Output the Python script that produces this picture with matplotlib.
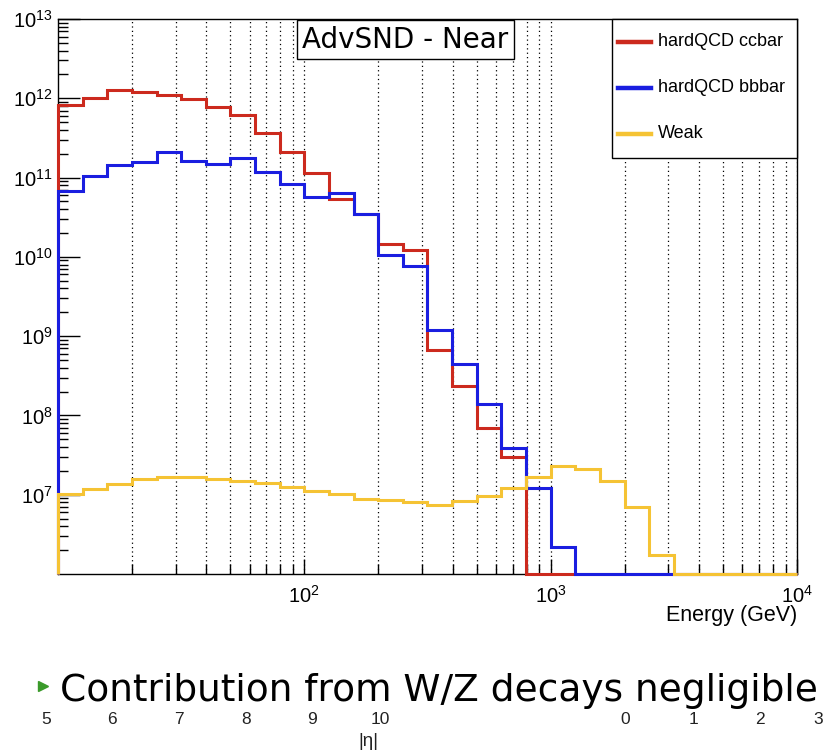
import numpy as np
import matplotlib
matplotlib.use("Agg")
import matplotlib.pyplot as plt
from matplotlib.lines import Line2D
from matplotlib.patches import Rectangle
from matplotlib.ticker import LogLocator, FixedLocator, NullFormatter

plt.rcParams["font.family"] = ["Liberation Sans", "DejaVu Sans"]
plt.rcParams["mathtext.fontset"] = "custom"
plt.rcParams["mathtext.rm"] = "Liberation Sans"
plt.rcParams["mathtext.it"] = "Liberation Sans:italic"

# 30 log-spaced energy bins, 10 GeV .. 10 TeV
edges = np.logspace(1, 4, 31)

ccbar = [8.2e11, 1.0e12, 1.28e12, 1.21e12, 1.11e12, 9.8e11, 7.7e11, 6.2e11,
         3.7e11, 2.1e11, 1.15e11, 5.4e10, 3.5e10, 1.47e10, 1.21e10, 6.7e8,
         2.35e8, 6.9e7, 2.95e7, 0, 0, 0, 0, 0, 0, 0, 0, 0, 0, 0]
bbbar = [6.7e10, 1.06e11, 1.46e11, 1.57e11, 2.1e11, 1.64e11, 1.49e11, 1.76e11,
         1.17e11, 8.2e10, 5.7e10, 6.3e10, 3.5e10, 1.07e10, 7.6e9, 1.19e9,
         4.4e8, 1.4e8, 3.9e7, 1.2e7, 2.2e6, 0, 0, 0, 0, 0, 0, 0, 0, 0]
weak = [1.02e7, 1.19e7, 1.36e7, 1.57e7, 1.67e7, 1.68e7, 1.57e7, 1.49e7,
        1.40e7, 1.26e7, 1.13e7, 1.02e7, 8.8e6, 8.7e6, 8.2e6, 7.4e6,
        8.3e6, 9.7e6, 1.21e7, 1.65e7, 2.27e7, 2.1e7, 1.5e7, 6.9e6, 1.74e6,
        0, 0, 0, 0, 0]

labels = ["hardQCD ccbar", "hardQCD bbbar", "Weak"]
colors = ["#cc2a1e", "#1a1ee0", "#f5c334"]

ymin, ymax = 1e6, 1e13

fig = plt.figure(figsize=(8.25, 7.54), dpi=100)
ax = fig.add_axes([58 / 825, 1 - 574 / 754, 739 / 825, 555 / 754])
ax.set_xscale("log")
ax.set_yscale("log")
ax.set_xlim(10, 1e4)
ax.set_ylim(ymin, ymax)

for i, (vals, col) in enumerate(zip([ccbar, bbbar, weak], colors)):
    v = np.clip(np.array(vals, dtype=float), ymin, None)
    ax.stairs(v, edges, baseline=ymin, color=col, lw=2.2,
              zorder=3 + i, clip_on=False)

# ticks: ROOT style, inside, only left/bottom
ax.xaxis.set_major_locator(FixedLocator([1e2, 1e3, 1e4]))
ax.xaxis.set_minor_locator(LogLocator(base=10, subs=np.arange(2, 10)))
ax.xaxis.set_minor_formatter(NullFormatter())
ax.yaxis.set_major_locator(FixedLocator([10.0 ** k for k in range(7, 14)]))
ax.yaxis.set_minor_locator(LogLocator(base=10, subs=np.arange(2, 10), numticks=20))
ax.yaxis.set_minor_formatter(NullFormatter())
ax.set_xticklabels([r"$10^{2}$", r"$10^{3}$", r"$10^{4}$"])
ax.set_yticklabels([r"$10^{%d}$" % k for k in range(7, 14)])
ax.tick_params(axis="x", which="major", direction="in", length=11, width=1,
               pad=8, labelsize=14.5)
ax.tick_params(axis="x", which="minor", direction="in", length=7, width=1)
ax.tick_params(axis="y", which="major", direction="in", length=16, width=1,
               pad=4, labelsize=14.5)
ax.tick_params(axis="y", which="minor", direction="in", length=7.5, width=1)
for s in ax.spines.values():
    s.set_linewidth(1.0)

# vertical dotted grid at every x tick
ax.grid(True, axis="x", which="both", color="black", lw=0.9,
        linestyle=(0, (1, 2.5)), zorder=1)
ax.set_axisbelow(True)

ax.text(1.0, -0.075, "Energy (GeV)", transform=ax.transAxes, ha="right",
        va="center", fontsize=15.5)

# title box
ax.text(0.470, 0.963, "AdvSND - Near", transform=ax.transAxes, ha="center",
        va="center", fontsize=20, family="DejaVu Sans", zorder=10,
        bbox=dict(boxstyle="square,pad=0.2", fc="white", ec="black", lw=1))

# legend box
lx0 = (612 - 58) / 739
ly0 = (574 - 158) / 555
ax.add_patch(Rectangle((lx0, ly0), 1 - lx0, 1 - ly0, transform=ax.transAxes,
                       fc="white", ec="black", lw=1, zorder=10, clip_on=False))
for (lab, col, yp) in zip(labels, colors, [42, 88, 134]):
    yy = (574 - yp) / 555
    ax.add_line(Line2D([(618 - 58) / 739, (651 - 58) / 739], [yy, yy],
                       transform=ax.transAxes, color=col, lw=3.2, zorder=11))
    ax.text((658 - 58) / 739, yy, lab, transform=ax.transAxes, ha="left",
            va="center", fontsize=13, zorder=11)

# slide text below the plot
fig.add_artist(Line2D([43 / 825], [1 - 686 / 754], marker=">", markersize=7,
                      color="#3a9a2a", linestyle="none"))
fig.text(60 / 825, 1 - 701 / 754, "Contribution from W/Z decays negligible",
         fontsize=27.0, family="DejaVu Sans", va="baseline", ha="left")

eta_ticks = ["5", "6", "7", "8", "9", "10"]
eta_x = [46, 112, 179, 246, 312, 380]
for t, xp in zip(eta_ticks, eta_x):
    fig.text(xp / 825, 1 - 720 / 754, t, fontsize=12.5, color="#222222",
             ha="center", va="center")
fig.text(368 / 825, 1 - 742 / 754, "|η|", fontsize=13.5, color="#222222",
         ha="center", va="center")
for t, xp in zip(["0", "1", "2", "3"], [625, 693, 760, 818]):
    fig.text(xp / 825, 1 - 720 / 754, t, fontsize=12.5, color="#222222",
             ha="center", va="center")

fig.savefig("out.png", dpi=100)
